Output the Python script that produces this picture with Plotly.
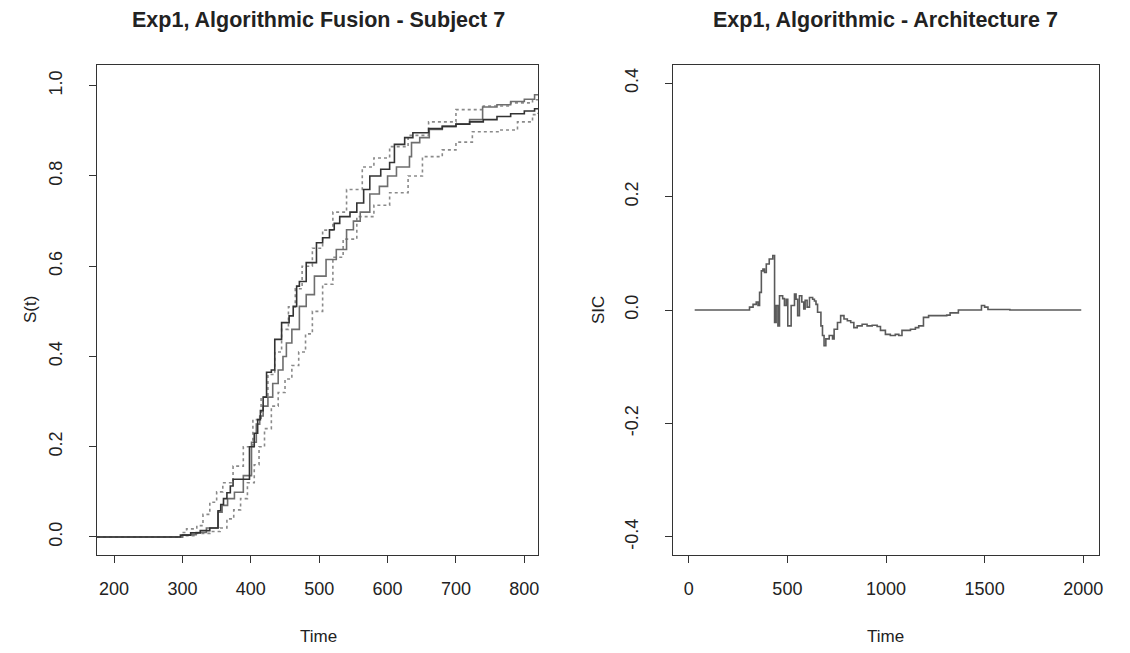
import plotly.graph_objects as go

# ---------------- data ----------------
# Left panel: survivor-type step curves, (time, value) break points
curve_a_t = [175, 297, 312, 326, 340, 352, 356, 360, 365, 370, 374, 398, 405, 410, 414, 418,
             423, 430, 435, 445, 456, 462, 467, 471, 481, 496, 505, 515, 522, 530, 545, 555,
             565, 574, 590, 603, 610, 625, 637, 660, 680, 700, 720, 740, 760, 780, 800, 815, 820]
curve_a_v = [0.0, 0.004, 0.009, 0.014, 0.02, 0.058, 0.072, 0.085, 0.098, 0.113, 0.128, 0.2,
             0.23, 0.26, 0.28, 0.31, 0.365, 0.37, 0.438, 0.475, 0.49, 0.511, 0.556, 0.566,
             0.608, 0.652, 0.663, 0.681, 0.695, 0.71, 0.72, 0.74, 0.77, 0.8, 0.815, 0.83,
             0.87, 0.885, 0.896, 0.905, 0.91, 0.915, 0.92, 0.925, 0.932, 0.938, 0.944, 0.949, 0.949]

curve_b_t = [175, 300, 320, 335, 352, 358, 366, 376, 389, 401, 408, 413, 418, 425, 432, 440,
             447, 452, 460, 471, 481, 493, 510, 525, 540, 550, 560, 574, 588, 600, 613, 632,
             635, 647, 661, 680, 700, 720, 739, 760, 780, 800, 815, 820]
curve_b_v = [0.0, 0.005, 0.01, 0.02, 0.055, 0.07, 0.085, 0.099, 0.136, 0.21, 0.25, 0.268,
             0.29, 0.31, 0.34, 0.37, 0.4, 0.43, 0.46, 0.511, 0.537, 0.578, 0.615, 0.637,
             0.681, 0.7, 0.72, 0.76, 0.777, 0.8, 0.82, 0.843, 0.874, 0.885, 0.903, 0.91,
             0.915, 0.925, 0.953, 0.958, 0.965, 0.97, 0.98, 0.98]

upper_t = [175, 300, 306, 321, 330, 340, 350, 359, 374, 389, 403, 415, 425, 435, 445, 455,
           465, 475, 490, 505, 520, 540, 563, 580, 603, 630, 660, 700, 740, 780, 812, 820]
upper_v = [0.0, 0.01, 0.018, 0.025, 0.05, 0.077, 0.1, 0.12, 0.157, 0.2, 0.26, 0.31, 0.36,
           0.41, 0.46, 0.51, 0.55, 0.6, 0.64, 0.68, 0.72, 0.77, 0.82, 0.84, 0.865, 0.89,
           0.92, 0.947, 0.955, 0.962, 0.969, 0.972]

lower_t = [175, 300, 320, 340, 355, 365, 375, 385, 395, 405, 412, 420, 430, 440, 450, 460,
           470, 480, 490, 505, 520, 535, 555, 580, 603, 630, 651, 680, 700, 724, 763, 790, 812, 820]
lower_v = [0.0, 0.003, 0.008, 0.012, 0.02, 0.04, 0.06, 0.085, 0.12, 0.16, 0.2, 0.24, 0.29,
           0.32, 0.35, 0.38, 0.41, 0.45, 0.5, 0.56, 0.62, 0.66, 0.71, 0.735, 0.763, 0.8,
           0.843, 0.858, 0.875, 0.898, 0.902, 0.92, 0.936, 0.94]

# Right panel: SIC curve
sic_t = [30, 300, 308, 326, 342, 351, 359, 368, 376, 384, 393, 408, 426, 430, 435, 443, 452,
         460, 476, 485, 494, 502, 519, 536, 544, 552, 561, 573, 583, 590, 600, 612, 628, 637,
         645, 653, 670, 678, 686, 695, 712, 729, 737, 754, 770, 787, 804, 821, 837, 854, 879,
         904, 930, 955, 972, 997, 1022, 1047, 1065, 1081, 1124, 1149, 1166, 1190, 1216, 1308,
         1325, 1367, 1443, 1484, 1500, 1517, 1628, 1990]
sic_v = [0.0, 0.0, 0.005, 0.01, 0.014, 0.008, 0.031, 0.069, 0.072, 0.066, 0.081, 0.09, 0.096,
         0.096, -0.022, 0.008, -0.028, 0.025, 0.02, 0.008, 0.019, -0.028, 0.008, 0.028, 0.019,
         -0.01, 0.025, 0.014, 0.002, 0.017, 0.005, 0.022, 0.019, 0.016, 0.01, -0.004, -0.028,
         -0.045, -0.063, -0.051, -0.045, -0.051, -0.034, -0.022, -0.01, -0.016, -0.019,
         -0.022, -0.031, -0.028, -0.025, -0.028, -0.027, -0.029, -0.036, -0.043, -0.045,
         -0.043, -0.045, -0.036, -0.034, -0.031, -0.028, -0.013, -0.01, -0.009, -0.005, 0.0,
         0.0, 0.008, 0.005, 0.001, 0.0, 0.0]

left_xticks = [200, 300, 400, 500, 600, 700, 800]
left_yticks = [0.0, 0.2, 0.4, 0.6, 0.8, 1.0]
left_ylabels = ["0.0", "0.2", "0.4", "0.6", "0.8", "1.0"]
right_xticks = [0, 500, 1000, 1500, 2000]
right_yticks = [-0.4, -0.2, 0.0, 0.2, 0.4]
right_ylabels = ["-0.4", "-0.2", "0.0", "0.2", "0.4"]

title_left = "Exp1, Algorithmic Fusion - Subject 7"
title_right = "Exp1, Algorithmic - Architecture 7"

# ---------------- figure ----------------
# the page body has an 8px margin, so the figure is 8px smaller and shifted
OFF = 8
W, H = 1130 - OFF, 653 - OFF
FONT = "Liberation Sans, Arial, Helvetica, sans-serif"
AX = "#333333"

fig = go.Figure()
fig.add_trace(go.Scatter(x=upper_t, y=upper_v, mode="lines", line=dict(color="#8a8a8a", width=1.6, dash="dot", shape="hv"),
                         xaxis="x", yaxis="y", showlegend=False))
fig.add_trace(go.Scatter(x=lower_t, y=lower_v, mode="lines", line=dict(color="#8a8a8a", width=1.6, dash="dot", shape="hv"),
                         xaxis="x", yaxis="y", showlegend=False))
fig.add_trace(go.Scatter(x=curve_b_t, y=curve_b_v, mode="lines", line=dict(color="#6e6e6e", width=1.6, shape="hv"),
                         xaxis="x", yaxis="y", showlegend=False))
fig.add_trace(go.Scatter(x=curve_a_t, y=curve_a_v, mode="lines", line=dict(color="#333333", width=1.6, shape="hv"),
                         xaxis="x", yaxis="y", showlegend=False))
fig.add_trace(go.Scatter(x=sic_t, y=sic_v, mode="lines", line=dict(color="#5a5a5a", width=1.6, shape="hv"),
                         xaxis="x2", yaxis="y2", showlegend=False))

def px_x(p):
    return (p - OFF) / W

def px_y(p):
    return 1 - (p - OFF) / H

common = dict(showline=True, mirror=True, linecolor=AX, linewidth=1.2, ticks="outside",
              ticklen=7, tickwidth=1.2, tickcolor=AX, showgrid=False, zeroline=False,
              automargin=False,
              tickfont=dict(family=FONT, size=18, color="#222222"))

fig.update_layout(
    width=W, height=H, margin=dict(l=0, r=0, t=0, b=0, autoexpand=False),
    paper_bgcolor="white", plot_bgcolor="white",
    xaxis=dict(domain=[px_x(97), px_x(538)], range=[175, 820], tickvals=left_xticks,
               anchor="y", ticklabelstandoff=10, **common),
    yaxis=dict(domain=[px_y(555), px_y(65)], range=[-0.04, 1.046], tickvals=left_yticks,
               ticktext=left_ylabels, tickangle=-90, anchor="x", ticklabelstandoff=20, **common),
    xaxis2=dict(domain=[px_x(673), px_x(1099)], range=[-80, 2080], tickvals=right_xticks,
                anchor="y2", ticklabelstandoff=10, **common),
    yaxis2=dict(domain=[px_y(555), px_y(65)], range=[-0.432, 0.432], tickvals=right_yticks,
                ticktext=right_ylabels, tickangle=-90, anchor="x2", ticklabelstandoff=20, **common),
)

ann = [
    dict(text="<b>" + title_left + "</b>", x=px_x(318), y=px_y(20), size=21.5),
    dict(text="<b>" + title_right + "</b>", x=px_x(886), y=px_y(20), size=21.5),
    dict(text="Time", x=px_x(318), y=px_y(636), size=17),
    dict(text="Time", x=px_x(886), y=px_y(636), size=17),
    dict(text="S(t)", x=px_x(30), y=px_y(310), size=17, angle=-90),
    dict(text="SIC", x=px_x(598), y=px_y(310), size=17, angle=-90),
]
for a in ann:
    fig.add_annotation(text=a["text"], x=a["x"], y=a["y"], xref="paper", yref="paper",
                       xanchor="center", yanchor="middle", showarrow=False,
                       textangle=a.get("angle", 0),
                       font=dict(family=FONT, size=a["size"], color="#222222"))

fig.write_html("out.html")
